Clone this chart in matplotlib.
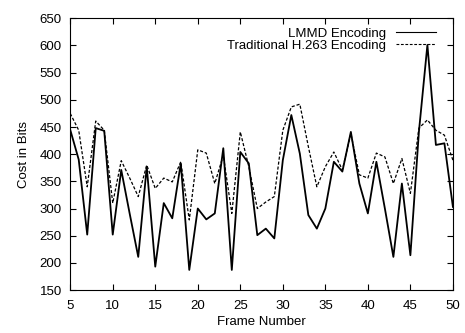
import matplotlib
matplotlib.use("Agg")
import matplotlib.pyplot as plt

plt.rcParams['font.family'] = ['Liberation Sans', 'DejaVu Sans']

frames = list(range(5, 51))
lmmd = [445, 390, 252, 448, 443, 252, 371, 290, 211, 377,
        193, 310, 282, 383, 187, 300, 280, 291, 411, 187,
        404, 383, 251, 263, 245, 389, 472, 401, 288, 263,
        300, 386, 368, 441, 346, 291, 386, 300, 211, 346,
        214, 441, 601, 417, 420, 303]
h263 = [475, 444, 340, 461, 444, 310, 388, 356, 322, 380,
        337, 356, 349, 386, 279, 408, 402, 346, 398, 291,
        441, 377, 300, 312, 322, 444, 487, 492, 414, 340,
        377, 404, 371, 438, 362, 356, 402, 395, 346, 392,
        328, 448, 463, 444, 435, 389]

fig = plt.figure(figsize=(4.65, 3.33), dpi=100)
ax = fig.add_axes([0.151, 0.129, 0.823, 0.816])

ax.plot(frames, lmmd, color='black', lw=1.3, label='LMMD Encoding')
ax.plot(frames, h263, color='black', lw=0.9, linestyle=(0, (2.5, 1.5)),
        label='Traditional H.263 Encoding')

ax.set_xlim(5, 50)
ax.set_ylim(150, 650)
ax.set_xticks(range(5, 51, 5))
ax.set_yticks(range(150, 651, 50))
ax.tick_params(direction='in', top=True, right=True, length=4, labelsize=9.5)
ax.tick_params(axis='x', pad=7)
ax.tick_params(axis='y', pad=6)
ax.set_xlabel('Frame Number', fontsize=9.5, labelpad=3)
ax.set_ylabel('Cost in Bits', fontsize=9.5, labelpad=7)

leg = ax.legend(loc='upper right', frameon=False, markerfirst=False,
                fontsize=9.5, handlelength=3.0, labelspacing=0.0,
                borderaxespad=0.3, bbox_to_anchor=(0.98, 1.0))
for line in leg.get_lines():
    line.set_linewidth(0.8)

fig.savefig('out.png', dpi=100)
